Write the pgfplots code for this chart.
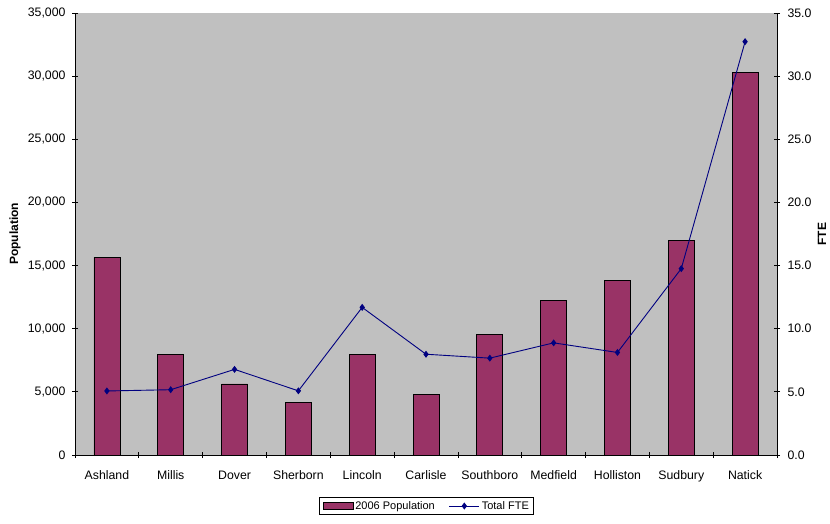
\documentclass[border=0pt]{standalone}
\usepackage{fontspec}
\setmainfont{Liberation Sans}
\usepackage{pgfplots}
\pgfplotsset{compat=1.18}
\definecolor{barc}{HTML}{993366}
\definecolor{bg}{HTML}{C0C0C0}
\definecolor{navyc}{HTML}{000080}
\begin{document}
\begin{tikzpicture}
\useasboundingbox (-75pt,-68pt) rectangle (755pt,455pt);
\pgfplotsset{
  common/.style={
    scale only axis, width=702pt, height=442pt,
    xmin=-0.5, xmax=10.5, ymin=0,
    axis line style={-, line width=0.8pt},
    tick align=center,
    major tick length=6pt, minor tick length=6pt,
    tick style={line width=0.8pt, black},
    every tick label/.append style={font=\fontsize{12.3}{14}\selectfont},
    /pgf/number format/assume math mode=true,
  }
}
\begin{axis}[common,
  ymax=35000,
  axis x line*=bottom, axis y line*=left,
  axis background/.style={fill=bg},
  xtick={0,...,10},
  xticklabels={Ashland,Millis,Dover,Sherborn,Lincoln,Carlisle,Southboro,Medfield,Holliston,Sudbury,Natick},
  major x tick style={draw=none},
  minor xtick={-0.5,0.5,1.5,2.5,3.5,4.5,5.5,6.5,7.5,8.5,9.5,10.5},
  xticklabel style={yshift=-9pt},
  ytick={0,5000,...,35000},
  scaled y ticks=false,
  yticklabel style={xshift=-3pt, /pgf/number format/.cd, fixed, 1000 sep={,}},
  ylabel={\textbf{Population}},
  ylabel style={at={(axis description cs:-0.0855,0.5)}, anchor=center, font=\fontsize{12}{14}\selectfont},
]
\addplot[ybar, bar width=26pt, fill=barc, draw=black, line width=0.8pt] coordinates {
(0,15650) (1,7950) (2,5630) (3,4180) (4,7930) (5,4820) (6,9520) (7,12270) (8,13850) (9,16970) (10,30300)};
\end{axis}
\begin{axis}[common,
  ymax=35,
  axis y line*=right, axis x line=none,
  ytick={0,5,...,35},
  yticklabel style={xshift=4pt, /pgf/number format/.cd, fixed, fixed zerofill, precision=1},
  ylabel={\textbf{FTE}},
  ylabel style={at={(axis description cs:1.064,0.5)}, anchor=center, font=\fontsize{12}{14}\selectfont},
  legend style={at={(axis description cs:0.501,-0.1154)}, anchor=center, draw=black, fill=white,
    font=\fontsize{11}{13}\selectfont, legend columns=2, line width=0.8pt,
    /tikz/every even column/.append style={column sep=12pt}},
]
\addlegendimage{legend image code/.code={\draw[fill=barc,draw=black,line width=0.8pt] (0pt,-3.5pt) rectangle (30pt,3.5pt);}}
\addlegendentry{2006 Population}
\addplot[navyc, line width=0.9pt, mark=diamond*, mark size=2.8pt,
  legend image code/.code={\draw[navyc, line width=0.9pt, mark=diamond*, mark size=2.8pt, mark repeat=2, mark phase=2] plot coordinates {(0pt,0pt) (15pt,0pt) (30pt,0pt)};}]
 coordinates {(0,5.07) (1,5.17) (2,6.78) (3,5.08) (4,11.69) (5,7.98) (6,7.67) (7,8.88) (8,8.12) (9,14.76) (10,32.73)};
\addlegendentry{Total FTE}
\end{axis}
\end{tikzpicture}
\end{document}
